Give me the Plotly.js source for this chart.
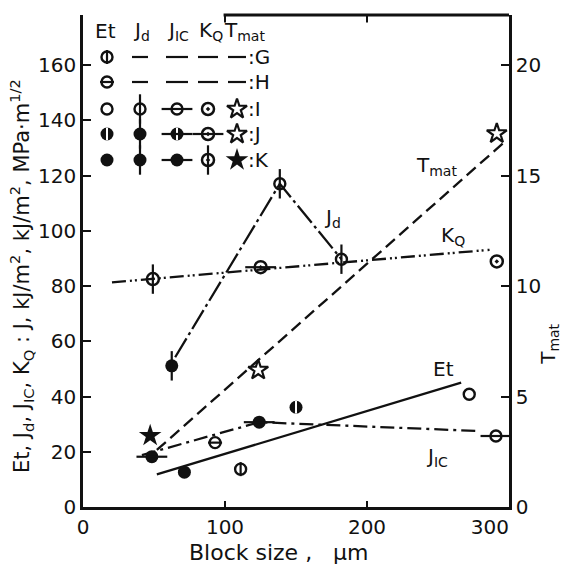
<!DOCTYPE html>
<html>
<head>
<meta charset="utf-8">
<script src="https://cdn.plot.ly/plotly-3.0.1.min.js"></script>
<style>html,body{margin:0;padding:0;background:#fff;}#chart{width:564px;height:575px;}</style>
</head>
<body>
<div id="chart"></div>
<script>
// ---------- data ----------
const etX = [111, 93, 272, 150, 71.4];
const etY = [13.7, 23.3, 40.8, 36.1, 12.6];
const etMat = ['G', 'H', 'I', 'J', 'K'];

const jdX = [62.5, 138.6, 182];
const jdY = [51.1, 117, 89.7];
const jdMat = ['K', 'I', 'I'];

const jicX = [48.5, 124.1, 290.8];
const jicY = [18.2, 30.7, 25.7];
const jicMat = ['K', 'K', 'I'];

const kqX = [49.2, 125.1, 291.4];
const kqY = [82.5, 86.8, 88.9];
const kqMat = ['K', 'J', 'I'];

const tmatX = [47.3, 123.4, 291.4];
const tmatY = [3.23, 6.2, 16.9];
const tmatMat = ['K', 'J', 'I'];

// trend lines drawn in the figure
const etFitX = [52, 266.3];
const etFitY = [11.8, 45.0];
const jicLineX = [41.5, 124.1, 279.2];
const jicLineY = [18.8, 30.7, 27.5];
const kqFitX = [20.4, 286.3];
const kqFitY = [81.3, 93.1];
const jdLineX = [64.9, 138.6, 182];
const jdLineY = [54.2, 117, 89.7];
const tmatFitX = [52, 295.6];
const tmatFitY = [2.58, 16.45];

// axis ticks
const xTickVals = [0, 100, 200, 300];
const xTickText = ['0', '100', '200', '300\u00A0\u00A0\u00A0\u00A0\u00A0\u00A0'];

// legend table
const legendCols = ['Et', 'J<sub>d</sub>', 'J<sub>IC</sub>', 'K<sub>Q</sub>', 'T<sub>mat</sub>'];
const legendSeries = ['Et', 'Jd', 'JIC', 'KQ', 'Tmat'];
const legendRows = ['G', 'H', 'I', 'J', 'K'];
const legendNoData = {G: ['Jd', 'JIC', 'KQ', 'Tmat'], H: ['Jd', 'JIC', 'KQ', 'Tmat']};

// ---------- styles ----------
const K = '#111';
const L = {
  circOpen: {symbol: 'circle-open', size: 11, color: K, line: {width: 2.4, color: K}},
  circFill: {symbol: 'circle', size: 13, color: K, line: {width: 0}},
  vIn: {symbol: 'line-ns-open', size: 10, color: K, line: {width: 2.2, color: K}},
  hIn: {symbol: 'line-ew-open', size: 10, color: K, line: {width: 2.2, color: K}},
  vWhite: {symbol: 'line-ns-open', size: 9, color: '#fff', line: {width: 2, color: '#fff'}},
  vLong: {symbol: 'line-ns-open', size: 21, color: K, line: {width: 2.2, color: K}},
  hLong: {symbol: 'line-ew-open', size: 22, color: K, line: {width: 2.2, color: K}},
  ringDot: {symbol: 'circle-open-dot', size: 12, color: K, line: {width: 2.5, color: K}},
  star: {symbol: 'star', size: 17, color: K, line: {width: 0}},
  starOpen: {symbol: 'star-open', size: 15, color: K, line: {width: 2.2, color: K}}
};
const HALF = [L.circFill, L.vWhite];
const styleMap = {
  Et: {G: [L.circOpen, L.vIn], H: [L.circOpen, L.hIn], I: [L.circOpen], J: HALF, K: [L.circFill]},
  Jd: {I: [L.circOpen, L.vLong], J: HALF.concat([L.vLong]), K: [L.circFill, L.vLong]},
  JIC: {I: [L.circOpen, L.hLong], J: HALF.concat([L.hLong]), K: [L.circFill, L.hLong]},
  KQ: {I: [L.ringDot], J: [L.ringDot, L.hLong], K: [L.ringDot, L.vLong]},
  Tmat: {I: [L.starOpen], J: [L.starOpen], K: [L.star]}
};

const traces = [];
function lineTrace(x, y, dash, yaxis) {
  traces.push({x: x, y: y, mode: 'lines', yaxis: yaxis || 'y', hoverinfo: 'skip',
    line: {color: K, width: 2.3, dash: dash}});
}
lineTrace(etFitX, etFitY, 'solid');
lineTrace(jicLineX, jicLineY, '14px,5px,3px,5px');
lineTrace(kqFitX, kqFitY, '14px,4px,2px,3px,2px,4px');
lineTrace(jdLineX, jdLineY, '22px,4px,3px,4px');
lineTrace(tmatFitX, tmatFitY, '12px,6px', 'y2');

function addMarkers(x, y, layers, xa, ya) {
  layers.forEach(function (m) {
    traces.push({x: x, y: y, xaxis: xa, yaxis: ya, mode: 'markers', marker: m, hoverinfo: 'skip'});
  });
}
function addSeries(name, xs, ys, mats, ya) {
  const groups = {};
  mats.forEach(function (m, i) { (groups[m] = groups[m] || {x: [], y: []}); groups[m].x.push(xs[i]); groups[m].y.push(ys[i]); });
  Object.keys(groups).forEach(function (m) { addMarkers(groups[m].x, groups[m].y, styleMap[name][m], 'x', ya); });
}
addSeries('Et', etX, etY, etMat, 'y');
addSeries('Jd', jdX, jdY, jdMat, 'y');
addSeries('JIC', jicX, jicY, jicMat, 'y');
addSeries('KQ', kqX, kqY, kqMat, 'y');
addSeries('Tmat', tmatX, tmatY, tmatMat, 'y2');

// legend table on an overlay axis measured in pixels from plot top-left
const colPx = [24, 57, 94, 125, 154];
const headPx = [22, 58, 95, 128, 161];
const rowPx = [42, 67, 94, 119, 145];
const annotations = [];
legendCols.forEach(function (t, i) {
  annotations.push({xref: 'x3', yref: 'y3', x: headPx[i], y: 16, text: t, showarrow: false,
    font: {family: 'DejaVu Sans', size: 20, color: K}});
});
const dashW = {Jd: 16, JIC: 22, KQ: 20, Tmat: 18};
legendRows.forEach(function (r, ri) {
  legendSeries.forEach(function (s, ci) {
    const nd = legendNoData[r] || [];
    if (nd.indexOf(s) >= 0) {
      const w = dashW[s] / 2;
      traces.push({x: [colPx[ci] - w, colPx[ci] + w], y: [rowPx[ri], rowPx[ri]], xaxis: 'x3', yaxis: 'y3',
        mode: 'lines', line: {color: K, width: 2.2}, hoverinfo: 'skip'});
    } else {
      addMarkers([colPx[ci]], [rowPx[ri]], styleMap[s][r], 'x3', 'y3');
    }
  });
  annotations.push({xref: 'x3', yref: 'y3', x: 163, y: rowPx[ri], xanchor: 'left', text: ':' + r, showarrow: false,
    font: {family: 'DejaVu Sans', size: 20, color: K}});
});

// curve labels
const lblFont = {family: 'DejaVu Sans', size: 20, color: K};
[['T<sub>mat</sub>', 249, 123.5], ['J<sub>d</sub>', 176, 104.5], ['K<sub>Q</sub>', 260.5, 98],
 ['Et', 254, 49.8], ['J<sub>IC</sub>', 249, 18]].forEach(function (a) {
  annotations.push({xref: 'x', yref: 'y', x: a[1], y: a[2], text: a[0], showarrow: false, font: lblFont});
});
// axis titles
annotations.push({xref: 'paper', yref: 'paper', x: 0.46, y: -0.062, xanchor: 'center', yanchor: 'top', showarrow: false,
  text: 'Block size ,\u00A0\u00A0\u00A0\u03BCm', font: {family: 'DejaVu Sans', size: 22, color: K}});
annotations.push({xref: 'paper', yref: 'paper', x: -0.145, y: 0.47, xanchor: 'center', yanchor: 'middle', textangle: -90, showarrow: false,
  text: 'Et, J<sub>d</sub>, J<sub>IC</sub>, K<sub>Q</sub> : J, kJ/m<sup>2</sup>, kJ/m<sup>2</sup>, MPa\u00B7m<sup>1/2</sup>',
  font: {family: 'DejaVu Sans', size: 21, color: K}});
annotations.push({xref: 'paper', yref: 'paper', x: 1.092, y: 0.33, xanchor: 'center', yanchor: 'middle', textangle: -90, showarrow: false,
  text: 'T<sub>mat</sub>', font: {family: 'DejaVu Sans', size: 20, color: K}});

const tickFont = {family: 'DejaVu Sans', size: 20, color: K};
const layout = {
  width: 564, height: 575,
  margin: {l: 83, r: 55, t: 15, b: 68},
  paper_bgcolor: '#fff', plot_bgcolor: 'rgba(0,0,0,0)',
  showlegend: false,
  xaxis: {range: [0, 300], tickmode: 'array', tickvals: xTickVals, ticktext: xTickText, showgrid: false, zeroline: false,
    showline: true, linewidth: 2.8, linecolor: K,
    ticks: 'inside', ticklen: 6, tickwidth: 2, tickcolor: K, tickfont: tickFont, mirror: false},
  yaxis: {range: [0, 178.1], dtick: 20, showgrid: false, zeroline: false, showline: true, linewidth: 2.8, linecolor: K,
    ticks: 'inside', ticklen: 8, tickwidth: 2, tickcolor: K, tickfont: tickFont},
  yaxis2: {range: [0, 22.2625], dtick: 5, overlaying: 'y', side: 'right', showgrid: false, zeroline: false, showline: true,
    linewidth: 2.8, linecolor: K, ticks: 'inside', ticklen: 8, tickwidth: 2, tickcolor: K, tickfont: tickFont},
  xaxis3: {range: [0, 426], overlaying: 'x', anchor: 'y3', visible: false, fixedrange: true},
  yaxis3: {range: [492, 0], overlaying: 'y', anchor: 'x3', visible: false, fixedrange: true},
  annotations: annotations,
  shapes: [
    {type: 'line', xref: 'x', yref: 'paper', x0: 99, x1: 300, y0: 1, y1: 1, line: {color: K, width: 2.8}},
    {type: 'line', xref: 'x', yref: 'paper', x0: 100, x1: 100, y0: 1, y1: 0.985, line: {color: K, width: 2}},
    {type: 'line', xref: 'x', yref: 'paper', x0: 200, x1: 200, y0: 1, y1: 0.985, line: {color: K, width: 2}}
  ]
};
Plotly.newPlot('chart', traces, layout, {staticPlot: true, displayModeBar: false});
</script>
</body>
</html>
